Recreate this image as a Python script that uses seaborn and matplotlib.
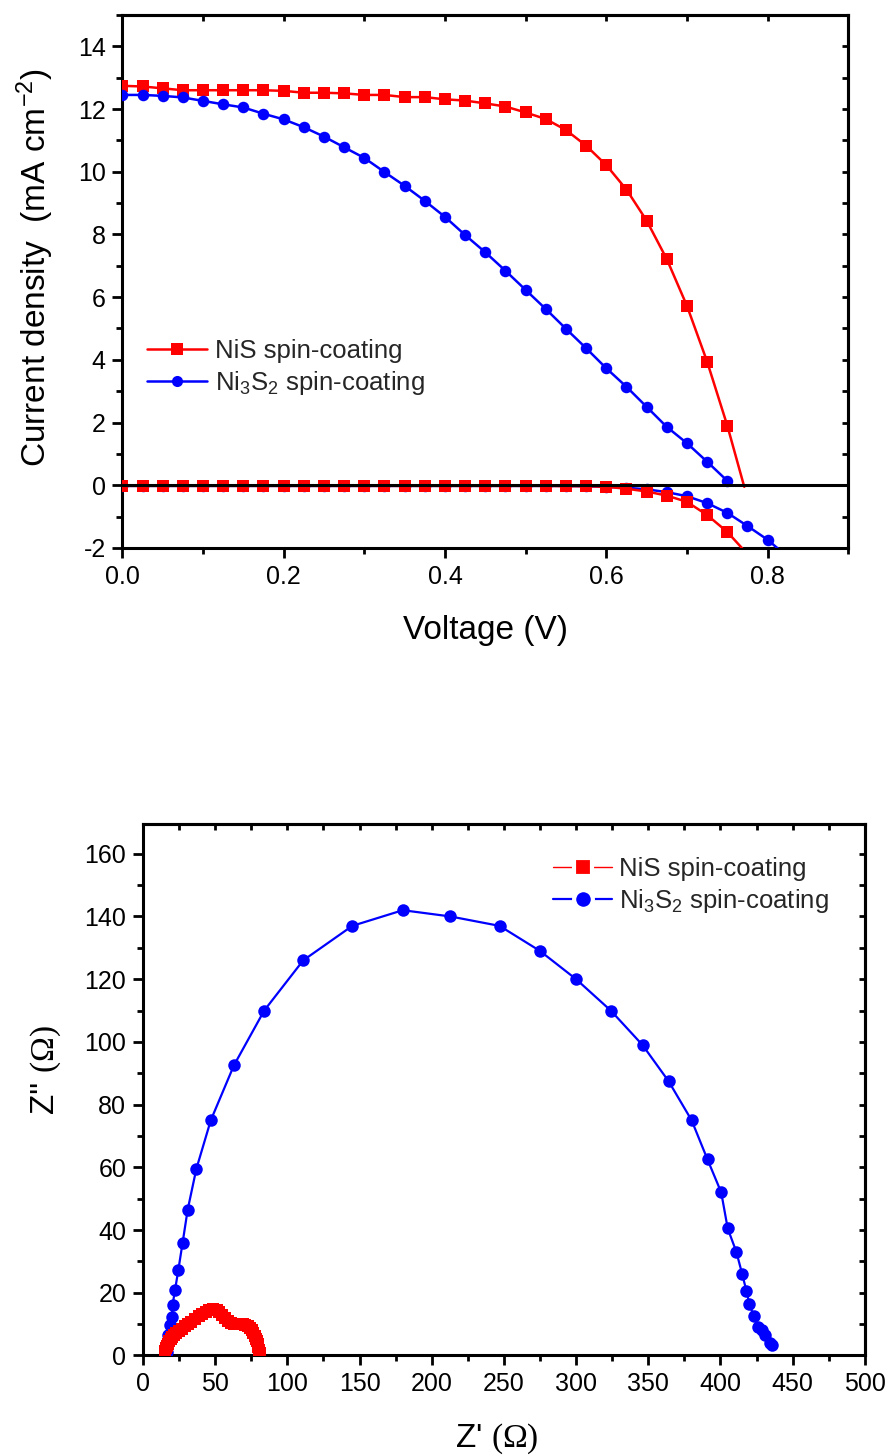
import numpy as np
import pandas as pd
import matplotlib
matplotlib.use("Agg")
import matplotlib.pyplot as plt
import seaborn as sns
from matplotlib.lines import Line2D
from matplotlib.ticker import MultipleLocator, FormatStrFormatter

# ---------------- data: J-V curves ----------------
voltage = [0.000, 0.025, 0.050, 0.075, 0.100, 0.125, 0.150, 0.175, 0.200, 0.225,
           0.250, 0.275, 0.300, 0.325, 0.350, 0.375, 0.400, 0.425, 0.450, 0.475,
           0.500, 0.525, 0.550, 0.575, 0.600, 0.625, 0.650, 0.675, 0.700, 0.725,
           0.750, 0.775, 0.800]

nis_light = [12.74, 12.72, 12.66, 12.60, 12.60, 12.60, 12.60, 12.60, 12.58, 12.52,
             12.52, 12.50, 12.45, 12.45, 12.38, 12.38, 12.31, 12.27, 12.18, 12.08,
             11.89, 11.68, 11.33, 10.83, 10.21, 9.43, 8.44, 7.21, 5.72, 3.94,
             1.90]
nis_light_tail_v = [0.771]
nis_light_tail_j = [-0.05]

ni3s2_light = [12.45, 12.45, 12.42, 12.37, 12.26, 12.15, 12.05, 11.85, 11.67, 11.42,
               11.12, 10.78, 10.44, 9.99, 9.55, 9.07, 8.56, 7.98, 7.43, 6.84,
               6.23, 5.62, 4.99, 4.37, 3.73, 3.14, 2.50, 1.86, 1.34, 0.75,
               0.14]

nis_dark = [-0.02, -0.02, -0.02, -0.02, -0.02, -0.02, -0.02, -0.02, -0.02, -0.02,
            -0.02, -0.02, -0.02, -0.02, -0.02, -0.02, -0.02, -0.02, -0.02, -0.02,
            -0.02, -0.02, -0.03, -0.03, -0.05, -0.11, -0.20, -0.33, -0.53, -0.95,
            -1.49]
nis_dark_tail_v = [0.768, 0.780]
nis_dark_tail_j = [-2.00, -2.40]

ni3s2_dark = [-0.02, -0.02, -0.02, -0.02, -0.02, -0.02, -0.02, -0.02, -0.02, -0.02,
              -0.02, -0.02, -0.02, -0.02, -0.02, -0.02, -0.02, -0.02, -0.02, -0.02,
              -0.02, -0.02, -0.02, -0.03, -0.05, -0.08, -0.13, -0.22, -0.35, -0.57,
              -0.88, -1.30, -1.74]
ni3s2_dark_tail_v = [0.830]
ni3s2_dark_tail_j = [-2.40]

# ---------------- data: Nyquist plots ----------------
ni3s2_zre = [17.0, 16.5, 17.5, 18.8, 20.0, 20.5, 22.2, 24.5, 27.5, 31.0,
             37.0, 47.0, 63.0, 84.0, 111.0, 145.0, 180.0, 213.0, 247.0, 275.0,
             300.0, 324.0, 346.0, 364.0, 380.0, 391.0, 400.5, 405.0, 411.0, 415.0,
             418.0, 420.0, 423.0, 426.0, 429.0, 431.0, 434.0, 436.0]
ni3s2_zim = [1.0, 3.9, 6.5, 9.7, 12.3, 16.0, 20.8, 27.2, 36.0, 46.5,
             59.5, 75.0, 92.5, 110.0, 126.0, 137.0, 142.0, 140.0, 137.0, 129.0,
             120.0, 110.0, 99.0, 87.5, 75.0, 62.5, 52.0, 40.5, 33.0, 26.0,
             20.5, 16.5, 12.5, 9.0, 8.0, 6.5, 4.0, 3.5]

nis_zre = [15.0, 15.3, 15.8, 16.5, 17.3, 18.2, 19.2, 20.4, 21.8, 23.2,
           25.0, 27.0, 29.0, 31.0, 33.5, 36.0, 38.5, 41.0, 43.5, 46.0,
           48.5, 51.0, 53.0, 55.0, 57.0, 59.0, 61.0, 63.0, 65.0, 67.0,
           69.0, 71.0, 72.5, 74.0, 75.5, 76.5, 77.5, 78.3, 79.0, 79.5,
           80.0, 80.4, 80.8]
nis_zim = [0.7, 1.5, 2.3, 3.0, 3.8, 4.5, 5.2, 5.9, 6.6, 7.2,
           7.8, 8.6, 9.3, 10.0, 10.8, 11.6, 12.5, 13.3, 14.0, 14.6,
           14.8, 14.5, 13.9, 13.0, 12.0, 11.0, 10.4, 10.1, 10.0, 10.0,
           9.9, 9.7, 9.3, 8.8, 8.0, 7.2, 6.3, 5.4, 4.5, 3.6,
           2.7, 1.8, 0.8]

legend_labels = ["NiS spin-coating", "Ni$_3$S$_2$ spin-coating"]

RED = "#ff0000"
BLUE = "#0000ff"

sns.set_theme(style="ticks")
plt.rcParams.update({
    "font.family": ["Liberation Sans", "DejaVu Sans"],
    "mathtext.fontset": "custom",
    "mathtext.rm": "Liberation Serif",
    "mathtext.it": "Liberation Serif:italic",
    "mathtext.bf": "Liberation Serif:bold",
    "mathtext.default": "regular",
    "axes.unicode_minus": False,
    "axes.edgecolor": "black",
    "axes.linewidth": 2.2,
    "xtick.color": "black",
    "ytick.color": "black",
})

TICK_FS = 18
LABEL_FS = 24
LEG_FS = 18.5

fig = plt.figure(figsize=(8.91, 14.55), dpi=100)


def style_axes(ax, xmaj, xmin, ymaj, ymin):
    ax.xaxis.set_major_locator(MultipleLocator(xmaj))
    ax.xaxis.set_minor_locator(MultipleLocator(xmin))
    ax.yaxis.set_major_locator(MultipleLocator(ymaj))
    ax.yaxis.set_minor_locator(MultipleLocator(ymin))
    ax.tick_params(axis="both", which="major", direction="out", length=7, width=2,
                   labelsize=TICK_FS, pad=5, colors="black")
    ax.tick_params(axis="both", which="minor", direction="out", length=4, width=2)
    for s in ax.spines.values():
        s.set_visible(True)
        s.set_linewidth(2.2)
        s.set_color("black")
    ax.grid(False)
    # mirrored inward ticks on top and right
    top = ax.secondary_xaxis("top")
    top.xaxis.set_major_locator(MultipleLocator(xmaj))
    top.xaxis.set_minor_locator(MultipleLocator(xmin))
    top.tick_params(axis="x", which="both", direction="in", length=4, width=2,
                    labeltop=False)
    top.spines["top"].set_linewidth(2.2)
    right = ax.secondary_yaxis("right")
    right.yaxis.set_major_locator(MultipleLocator(ymaj))
    right.yaxis.set_minor_locator(MultipleLocator(ymin))
    right.tick_params(axis="y", which="both", direction="in", length=4, width=2,
                      labelright=False)
    right.spines["right"].set_linewidth(2.2)


# ================= top panel: J-V =================
ax1 = fig.add_axes([0.1373, 0.6234, 0.8148, 0.3663])

n_nis = len(nis_light)
v_nis = voltage[:n_nis]
line_kw = dict(estimator=None, sort=False, lw=1.8, markersize=8.3, markeredgewidth=0)

sns.lineplot(x=v_nis + nis_light_tail_v, y=nis_light + nis_light_tail_j, ax=ax1,
             color=RED, marker="s", markevery=list(range(n_nis)), zorder=3, **line_kw)
sns.lineplot(x=voltage[:len(ni3s2_light)], y=ni3s2_light, ax=ax1,
             color=BLUE, marker="o", zorder=4, **line_kw)
sns.lineplot(x=voltage[:len(ni3s2_dark)] + ni3s2_dark_tail_v, y=ni3s2_dark + ni3s2_dark_tail_j,
             ax=ax1, color=BLUE, marker="o", markevery=list(range(len(ni3s2_dark))),
             zorder=3, **line_kw)
sns.lineplot(x=voltage[:len(nis_dark)] + nis_dark_tail_v, y=nis_dark + nis_dark_tail_j,
             ax=ax1, color=RED, marker="s", markevery=list(range(len(nis_dark))),
             zorder=4, **line_kw)
ax1.axhline(0, color="black", lw=2.2, zorder=6)

ax1.set_xlim(0, 0.9)
ax1.set_ylim(-2, 15)
style_axes(ax1, 0.2, 0.1, 2, 1)
ax1.xaxis.set_major_formatter(FormatStrFormatter("%.1f"))
ax1.set_xlabel("Voltage (V)", fontsize=LABEL_FS, color="black")
ax1.set_ylabel("Current density  (mA cm$^{-2}$)", fontsize=LABEL_FS, color="black")
ax1.xaxis.set_label_coords(0.5, -0.125)
ax1.yaxis.set_label_coords(-0.091, 0.526)

h_top = [Line2D([], [], color=RED, lw=1.8, marker="s", markersize=8, markeredgewidth=0),
         Line2D([], [], color=BLUE, lw=1.8, marker="o", markersize=8, markeredgewidth=0)]
ax1.legend(h_top, legend_labels, loc="upper left", bbox_to_anchor=(0.034, 0.392),
           frameon=False, fontsize=LEG_FS, handlelength=2.35, handletextpad=0.3,
           labelspacing=0.22, borderpad=0, borderaxespad=0)

# ================= bottom panel: Nyquist =================
ax2 = fig.add_axes([0.1604, 0.0684, 0.8103, 0.3653])

sns.lineplot(x=nis_zre, y=nis_zim, ax=ax2, color=RED, marker="s", estimator=None,
             sort=False, lw=1.0, markersize=8, markeredgewidth=0, zorder=4)
sns.lineplot(x=ni3s2_zre, y=ni3s2_zim, ax=ax2, color=BLUE, marker="o", estimator=None,
             sort=False, lw=1.6, markersize=9, markeredgewidth=0, zorder=3)

ax2.set_xlim(0, 500)
ax2.set_ylim(0, 169.5)
style_axes(ax2, 50, 25, 20, 10)
ax2.set_xlabel("Z' $\\mathrm{(\\Omega)}$", fontsize=LABEL_FS, color="black")
ax2.set_ylabel("Z'' $\\mathrm{(\\Omega)}$", fontsize=LABEL_FS, color="black")
ax2.xaxis.set_label_coords(0.49, -0.125)
ax2.yaxis.set_label_coords(-0.110, 0.537)

h_bot = [Line2D([], [], color=RED, lw=1.0, marker="s", markersize=13,
                markerfacecolor=RED, markeredgecolor="white", markeredgewidth=3.0),
         Line2D([], [], color=BLUE, lw=1.6, marker="o", markersize=13.5,
                markerfacecolor=BLUE, markeredgecolor="white", markeredgewidth=3.0)]
ax2.legend(h_bot, legend_labels, loc="upper left", bbox_to_anchor=(0.568, 0.937),
           frameon=False, fontsize=LEG_FS, handlelength=2.3, handletextpad=0.25,
           labelspacing=0.22, borderpad=0, borderaxespad=0)

fig.savefig("out.png", dpi=100)
